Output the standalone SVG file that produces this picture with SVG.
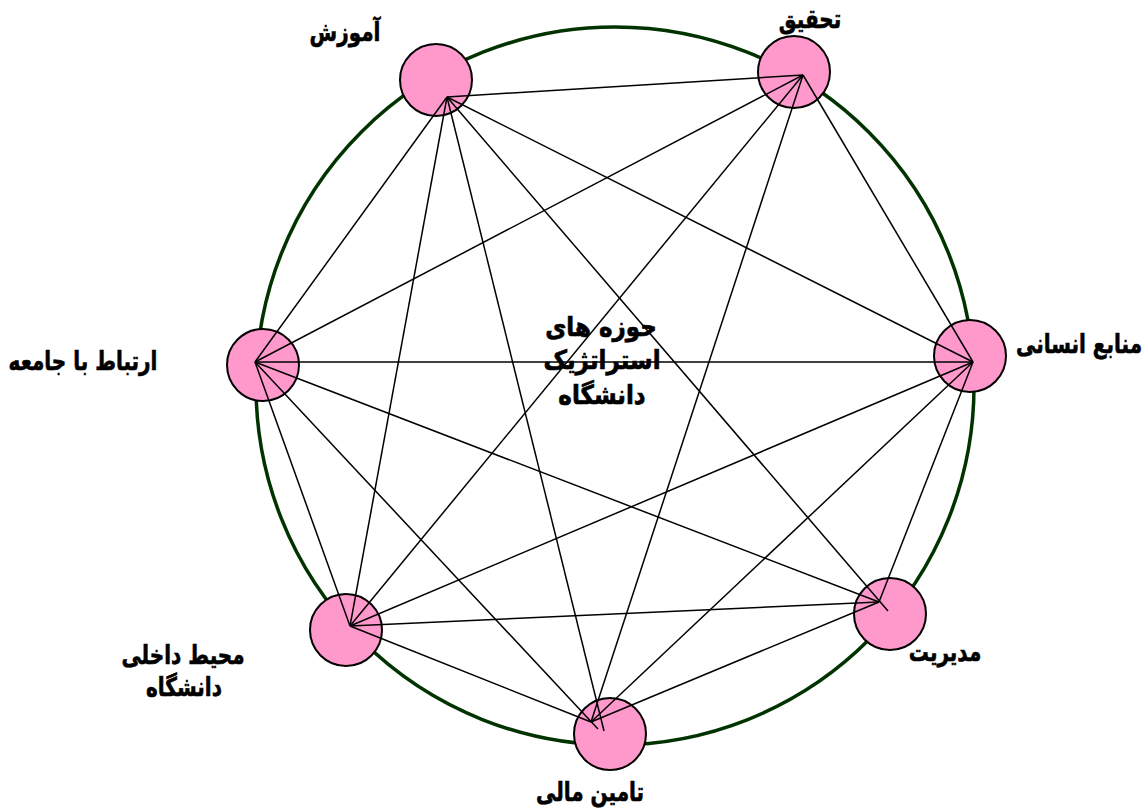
<svg xmlns="http://www.w3.org/2000/svg" width="1145" height="812" viewBox="0 0 1145 812">
<style>
.ring{fill:none;stroke:#003300;stroke-width:3.5}
.node{fill:#FF99CC;stroke:#000;stroke-width:2}
.lbl{font-family:"DejaVu Sans",sans-serif;font-weight:bold;font-size:20px;fill:#000;stroke:#000;stroke-width:0.5;text-anchor:middle}
.ctr{font-family:"DejaVu Sans",sans-serif;font-weight:bold;font-size:23px;fill:#000;stroke:#000;stroke-width:0.6;text-anchor:middle}
.edges line{stroke:#000;stroke-width:1.5}
</style>
<rect width="1145" height="812" fill="#fff"/>
<circle class="ring" cx="615" cy="386" r="359"/>
<g id="center-title">
<text class="ctr" transform="translate(601,336) scale(1,1.15)">حوزه های</text>
<text class="ctr" transform="translate(602,369) scale(1,1.15)">استراتژیک</text>
<text class="ctr" transform="translate(602,404) scale(1,1.15)">دانشگاه</text>
</g>
<g id="node-amuzesh"><circle class="node" cx="436" cy="80" r="36"/><text class="lbl" transform="translate(345,41) scale(1,1.3)">آموزش</text></g>
<g id="node-tahghigh"><circle class="node" cx="794" cy="72" r="36"/><text class="lbl" transform="translate(810,28) scale(1,1.3)">تحقیق</text></g>
<g id="node-manabe"><circle class="node" cx="970" cy="356" r="36"/><text class="lbl" transform="translate(1079,353) scale(1,1.3)">منابع انسانی</text></g>
<g id="node-modiriat"><circle class="node" cx="890" cy="614" r="36"/><text class="lbl" transform="translate(945,661) scale(1,1.3)">مدیریت</text></g>
<g id="node-tamin"><circle class="node" cx="610" cy="734" r="36"/><text class="lbl" transform="translate(590,801) scale(1,1.3)">تامین مالی</text></g>
<g id="node-mohit"><circle class="node" cx="346" cy="630" r="36"/><text class="lbl" transform="translate(183,664) scale(1,1.3)">محیط داخلی</text><text class="lbl" transform="translate(184,696) scale(1,1.3)">دانشگاه</text></g>
<g id="node-ertebat"><circle class="node" cx="263" cy="365" r="36"/><text class="lbl" transform="translate(83,370) scale(1,1.3)">ارتباط با جامعه</text></g>
<g id="connectors" class="edges">
<line x1="447" y1="97" x2="803" y2="75"/>
<line x1="447" y1="97" x2="973" y2="362"/>
<line x1="447" y1="97" x2="888" y2="611"/>
<line x1="447" y1="97" x2="604" y2="731"/>
<line x1="447" y1="97" x2="350" y2="626"/>
<line x1="447" y1="97" x2="255" y2="362"/>
<line x1="803" y1="75" x2="973" y2="362"/>
<line x1="803" y1="75" x2="591" y2="722"/>
<line x1="803" y1="75" x2="350" y2="626"/>
<line x1="803" y1="75" x2="255" y2="362"/>
<line x1="973" y1="362" x2="255" y2="362"/>
<line x1="973" y1="362" x2="350" y2="626"/>
<line x1="973" y1="362" x2="591" y2="722"/>
<line x1="973" y1="362" x2="879" y2="602"/>
<line x1="879" y1="602" x2="255" y2="362"/>
<line x1="879" y1="602" x2="350" y2="626"/>
<line x1="879" y1="602" x2="591" y2="722"/>
<line x1="598" y1="729" x2="255" y2="362"/>
<line x1="591" y1="722" x2="350" y2="626"/>
<line x1="350" y1="626" x2="255" y2="362"/>
</g>
</svg>
